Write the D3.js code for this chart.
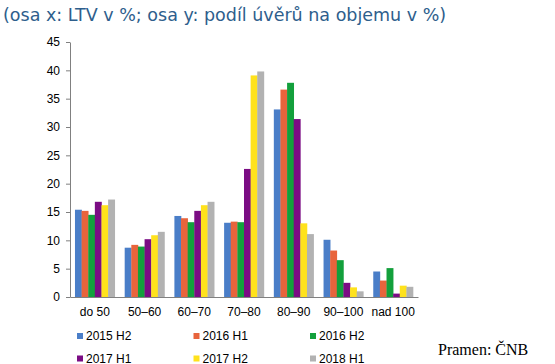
<!DOCTYPE html>
<html>
<head>
<meta charset="utf-8">
<style>
  body { margin: 0; background: #fff; }
  text { font-family: "Liberation Sans", Arial, sans-serif; }
</style>
</head>
<body>
<svg></svg>
<script src="https://cdn.jsdelivr.net/npm/d3@7"></script>
<script>
  const width = 555;
  const height = 364;

  const categories = ['do 50', '50–60', '60–70', '70–80', '80–90', '90–100', 'nad 100'];
  const seriesNames = ['2015 H2', '2016 H1', '2016 H2', '2017 H1', '2017 H2', '2018 H1'];
  const colors = ['#4a7ec8', '#e8643c', '#13a03c', '#7b0c84', '#ffe21c', '#b2b2b2'];
  const s2015H2 = [15.4, 8.7, 14.3, 13.1, 33.1, 10.1, 4.5];
  const s2016H1 = [15.2, 9.2, 13.9, 13.3, 36.6, 8.2, 2.9];
  const s2016H2 = [14.5, 8.9, 13.2, 13.2, 37.8, 6.5, 5.1];
  const s2017H1 = [16.8, 10.2, 15.2, 22.6, 31.4, 2.5, 0.6];
  const s2017H2 = [16.2, 10.9, 16.2, 39.1, 13.0, 1.7, 2.0];
  const s2018H1 = [17.2, 11.5, 16.8, 39.8, 11.1, 1.0, 1.8];
  const series = [s2015H2, s2016H1, s2016H2, s2017H1, s2017H2, s2018H1];
  const yTicks = [0, 5, 10, 15, 20, 25, 30, 35, 40, 45];

  const margin = {left: 70, right: 137, top: 42, bottom: 67};

  const svg = d3.select('svg').attr('width', width).attr('height', height);

  svg.append('text')
    .attr('x', 3).attr('y', 21)
    .style('font-family', '"DejaVu Sans", Verdana, sans-serif')
    .style('font-size', '17.5px')
    .attr('fill', '#2e5e8c')
    .text('(osa x: LTV v %; osa y: podíl úvěrů na objemu v %)');

  const x = d3.scaleBand()
    .domain(categories)
    .range([margin.left, width - margin.right])
    .paddingInner(0.2).paddingOuter(0.1);

  const xs = d3.scaleBand()
    .domain(d3.range(seriesNames.length))
    .range([0, x.bandwidth()]);

  const y = d3.scaleLinear()
    .domain([0, 45])
    .range([height - margin.bottom, margin.top]);

  // bars
  const groups = svg.append('g').selectAll('g')
    .data(categories)
    .enter().append('g')
    .attr('transform', d => `translate(${x(d)},0)`);

  groups.selectAll('rect')
    .data((d, i) => series.map((s, j) => ({j: j, v: s[i]})))
    .enter().append('rect')
    .attr('x', d => xs(d.j))
    .attr('width', xs.bandwidth() + 0.3)
    .attr('y', d => y(d.v))
    .attr('height', d => y(0) - y(d.v))
    .attr('fill', d => colors[d.j]);

  // y axis
  const yAxis = svg.append('g')
    .attr('transform', `translate(${margin.left},0)`)
    .call(d3.axisLeft(y).tickValues(yTicks).tickSize(4).tickPadding(6).tickSizeOuter(0));
  yAxis.select('.domain').attr('stroke', '#808080');
  yAxis.selectAll('.tick line').attr('stroke', '#808080');
  yAxis.selectAll('.tick text')
    .style('font-size', '12px').attr('fill', '#000');

  // x axis
  const xAxis = svg.append('g')
    .attr('transform', `translate(0,${y(0)})`)
    .call(d3.axisBottom(x).tickSize(0).tickPadding(10).tickSizeOuter(0));
  xAxis.select('.domain').attr('stroke', '#808080');
  xAxis.selectAll('.tick text')
    .style('font-size', '12px').attr('fill', '#000');

  // legend
  const legend = svg.append('g').selectAll('g')
    .data(seriesNames)
    .enter().append('g')
    .attr('transform', (d, i) => `translate(${77 + (i % 3) * 116.5},${333 + Math.floor(i / 3) * 22.5})`);
  legend.append('rect')
    .attr('width', 6).attr('height', 6)
    .attr('fill', (d, i) => colors[i]);
  legend.append('text')
    .attr('x', 9).attr('y', 7)
    .style('font-size', '12px')
    .attr('fill', '#000')
    .text(d => d);

  svg.append('text')
    .attr('x', 438).attr('y', 355)
    .style('font-family', '"Liberation Serif", "Times New Roman", serif')
    .style('font-size', '16px')
    .attr('fill', '#000')
    .text('Pramen: ČNB');
</script>
</body>
</html>
